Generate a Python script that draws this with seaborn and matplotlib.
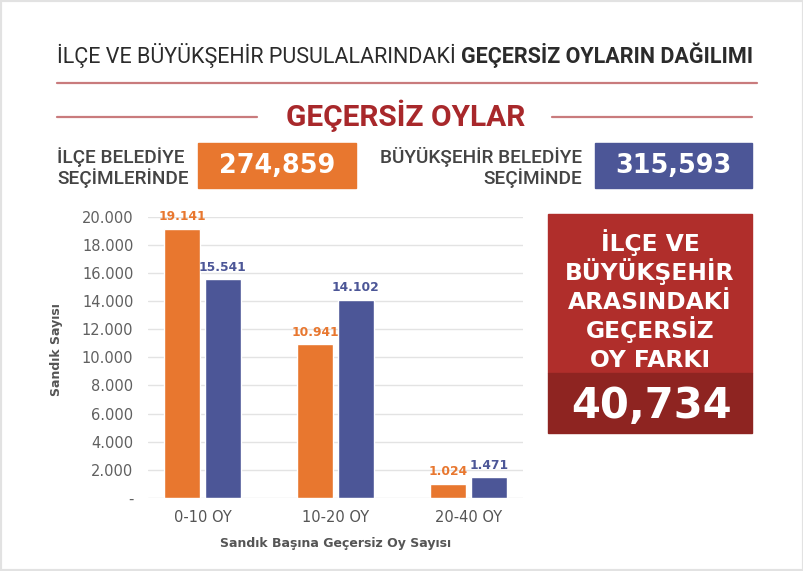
import matplotlib
matplotlib.use("Agg")
import matplotlib.pyplot as plt
from matplotlib.patches import Rectangle
from matplotlib.lines import Line2D
import seaborn as sns
import pandas as pd

# --- Data ---
categories = ["0-10 OY", "10-20 OY", "20-40 OY"]
ilce_values = [19141, 10941, 1024]
buyuksehir_values = [15541, 14102, 1471]
series_names = ["İlçe", "Büyükşehir"]
ilce_total = "274,859"
buyuksehir_total = "315,593"
fark_total = "40,734"
fark_lines = ["İLÇE VE", "BÜYÜKŞEHİR", "ARASINDAKİ", "GEÇERSİZ", "OY FARKI"]

ORANGE = "#e8772f"
BLUE = "#4c5697"
RED = "#b02e2b"
DARK_RED = "#8e2421"
ROSE = "#c97b7d"
GRAY_TXT = "#555555"

W, H = 804, 571


def fx(px):
    return px / W


def fy(py):
    return 1 - py / H


sns.set_style("white")
plt.rcParams["font.family"] = ["DejaVu Sans"]

fig = plt.figure(figsize=(W / 100, H / 100), dpi=100)
fig.patch.set_facecolor("white")

# light grey frame around the card
fig.patches.append(Rectangle((0, 0), 1, 1, transform=fig.transFigure, fill=False,
                             edgecolor="#e2e2e2", linewidth=3))

# --- Header ---
renderer = fig.canvas.get_renderer()
t1 = fig.text(fx(57), fy(63), "İLÇE VE BÜYÜKŞEHİR PUSULALARINDAKİ ", family="Roboto",
              fontsize=15.5, color="#2b2b2b", va="baseline", ha="left")
x_end = t1.get_window_extent(renderer).x1
fig.text(x_end / W, fy(63), "GEÇERSİZ OYLARIN DAĞILIMI", family="Roboto",
         fontsize=15.5, fontweight="bold", color="#2b2b2b", va="baseline", ha="left")

fig.add_artist(Line2D([fx(57), fx(757)], [fy(83), fy(83)], color=ROSE, lw=1.6))
fig.add_artist(Line2D([fx(57), fx(257)], [fy(117), fy(117)], color=ROSE, lw=1.6))
fig.add_artist(Line2D([fx(552), fx(752)], [fy(117), fy(117)], color=ROSE, lw=1.6))
fig.text(fx(406), fy(126), "GEÇERSİZ OYLAR", family="Roboto", fontsize=21.5,
         fontweight="bold", color="#a8282b", ha="center", va="baseline")

fig.text(fx(57), fy(163), "İLÇE BELEDİYE", family="Roboto", fontsize=13.7,
         fontweight="medium", color="#444444", ha="left", va="baseline")
fig.text(fx(57), fy(184), "SEÇİMLERİNDE", family="Roboto", fontsize=13.7,
         fontweight="medium", color="#444444", ha="left", va="baseline")
fig.text(fx(582), fy(163), "BÜYÜKŞEHİR BELEDİYE", family="Roboto", fontsize=13.7,
         fontweight="medium", color="#444444", ha="right", va="baseline")
fig.text(fx(582), fy(184), "SEÇİMİNDE", family="Roboto", fontsize=13.7,
         fontweight="medium", color="#444444", ha="right", va="baseline")

fig.patches.append(Rectangle((fx(198), fy(188)), fx(356) - fx(198), fy(143) - fy(188),
                             transform=fig.transFigure, color=ORANGE))
fig.patches.append(Rectangle((fx(595), fy(188)), fx(752) - fx(595), fy(143) - fy(188),
                             transform=fig.transFigure, color=BLUE))
fig.text(fx(277), fy(173), ilce_total, fontsize=18.4, fontweight="bold", color="white",
         ha="center", va="baseline")
fig.text(fx(673), fy(173), buyuksehir_total, fontsize=18.4, fontweight="bold", color="white",
         ha="center", va="baseline")

# --- Right red box ---
fig.patches.append(Rectangle((fx(548), fy(373)), fx(752) - fx(548), fy(214) - fy(373),
                             transform=fig.transFigure, color=RED))
fig.patches.append(Rectangle((fx(548), fy(433)), fx(752) - fx(548), fy(373) - fy(433),
                             transform=fig.transFigure, color=DARK_RED))
for i, line in enumerate(fark_lines):
    fig.text(fx(650), fy(251 + i * 29), line, fontsize=16.8, fontweight="bold",
             color="white", ha="center", va="baseline")
fig.text(fx(652), fy(418), fark_total, fontsize=30, fontweight="bold", color="white",
         ha="center", va="baseline")

# --- Bar chart ---
df = pd.DataFrame({
    "kategori": categories * 2,
    "seçim": [series_names[0]] * 3 + [series_names[1]] * 3,
    "sandık": ilce_values + buyuksehir_values,
})

ax = fig.add_axes([fx(148), fy(498), fx(523) - fx(148), fy(216.7) - fy(498)])
sns.barplot(data=df, x="kategori", y="sandık", hue="seçim", order=categories,
            hue_order=series_names, palette=[ORANGE, BLUE], width=0.61, gap=0.11,
            saturation=1, legend=False, ax=ax)

ax.set_xlim(-0.41, 2.41)
ax.set_ylim(0, 20000)
ax.set_yticks(range(0, 20001, 2000))
ax.set_yticklabels(["-" if v == 0 else f"{v:,}".replace(",", ".") for v in range(0, 20001, 2000)])
ax.yaxis.grid(True, color="#e3e3e3", linewidth=1)
ax.set_axisbelow(True)
for s in ax.spines.values():
    s.set_visible(False)
ax.tick_params(axis="y", length=0, pad=10.5, labelsize=10.5, labelcolor="#606060")
ax.tick_params(axis="x", length=0, pad=9, labelsize=10.5, labelcolor=GRAY_TXT)

for container, color in zip(ax.containers, [ORANGE, BLUE]):
    labels = [f"{int(v):,}".replace(",", ".") for v in container.datavalues]
    ax.bar_label(container, labels=labels, padding=4, fontsize=8.8, fontweight="bold",
                 color=color)

ax.set_xlabel("Sandık Başına Geçersiz Oy Sayısı", fontsize=9, fontweight="bold",
              color=GRAY_TXT, labelpad=8)
ax.set_ylabel("Sandık Sayısı", fontsize=9, fontweight="bold", color=GRAY_TXT)
ax.yaxis.set_label_coords((63 - 148) / (523 - 148), (498 - 350) / (498 - 216.7))

fig.savefig("out.png", dpi=100)
